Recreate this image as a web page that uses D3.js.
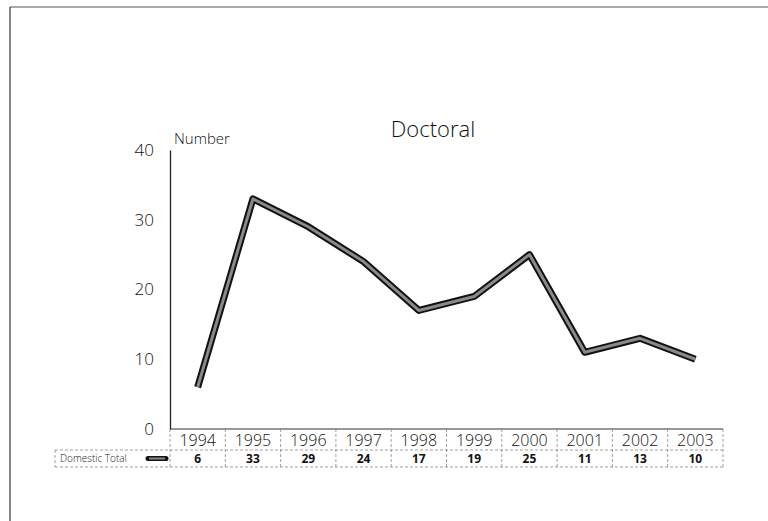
<!DOCTYPE html>
<html><head><meta charset="utf-8">
<script src="https://cdn.jsdelivr.net/npm/d3@7"></script>
<style>
html,body{margin:0;padding:0;background:#fff;}
svg{display:block;font-family:"Open Sans","DejaVu Sans",sans-serif;}
</style></head>
<body><svg id="chart" width="768" height="521"></svg>
<script>
const years = ["1994","1995","1996","1997","1998","1999","2000","2001","2002","2003"];
const domesticTotal = [6,33,29,24,17,19,25,11,13,10];
const yTicks = [0,10,20,30,40];
const seriesName = "Domestic Total";
const chartTitle = "Doctoral";
const yAxisLabel = "Number";

const svg = d3.select("#chart");
const pLeft = 170, pRight = 723, pTop = 150, pBottom = 429;
const x = d3.scaleBand().domain(years).range([pLeft, pRight]);
const y = d3.scaleLinear().domain([0,40]).range([pBottom, pTop]);

// page frame
svg.append("line").attr("x1",10).attr("x2",768).attr("y1",7).attr("y2",7).attr("stroke","#555").attr("stroke-width",1);
svg.append("line").attr("x1",10).attr("x2",10).attr("y1",7).attr("y2",521).attr("stroke","#333").attr("stroke-width",1.2);

// title
svg.append("text").attr("x",433).attr("y",137).attr("text-anchor","middle")
  .attr("font-size",22).attr("font-weight",300).attr("fill","#111").text(chartTitle);
svg.append("text").attr("x",174).attr("y",144).attr("font-size",15).attr("font-weight",300).attr("fill","#111").text(yAxisLabel);

// y axis
const yAxis = d3.axisLeft(y).tickValues(yTicks).tickSize(0).tickPadding(16);
const ga = svg.append("g").attr("transform",`translate(${pLeft},0)`).call(yAxis);
ga.select(".domain").attr("stroke","#222").attr("stroke-width",1.3);
ga.selectAll("text").attr("font-size",17).attr("font-weight",300).attr("fill","#111").attr("font-family","'Open Sans',sans-serif");

// x axis baseline
svg.append("line").attr("x1",pLeft).attr("x2",pRight).attr("y1",pBottom).attr("y2",pBottom).attr("stroke","#333").attr("stroke-width",1.2);

// data table
const tbl = svg.append("g").attr("stroke","#888").attr("stroke-width",0.8).attr("stroke-dasharray","3,2");
years.forEach((yr)=>{
  tbl.append("line").attr("x1",x(yr)).attr("x2",x(yr)).attr("y1",pBottom).attr("y2",467);
});
tbl.append("line").attr("x1",pRight).attr("x2",pRight).attr("y1",pBottom).attr("y2",467);
tbl.append("line").attr("x1",55).attr("x2",pRight).attr("y1",450).attr("y2",450);
tbl.append("line").attr("x1",55).attr("x2",pRight).attr("y1",467).attr("y2",467);
tbl.append("line").attr("x1",55).attr("x2",55).attr("y1",450).attr("y2",467);

svg.append("g").selectAll("text").data(years).join("text")
  .attr("x",d=>x(d)+x.bandwidth()/2).attr("y",446).attr("text-anchor","middle")
  .attr("font-size",16).attr("font-weight",300).attr("fill","#111").text(d=>d);
svg.append("g").selectAll("text").data(domesticTotal).join("text")
  .attr("x",(d,i)=>x(years[i])+x.bandwidth()/2).attr("y",463).attr("text-anchor","middle")
  .attr("font-size",12).attr("font-weight",700).attr("fill","#111").text(d=>d);

svg.append("text").attr("x",60).attr("y",462).attr("font-size",10).attr("font-weight",300).attr("fill","#222").text(seriesName);
svg.append("line").attr("x1",148).attr("x2",166).attr("y1",458.5).attr("y2",458.5).attr("stroke","#111").attr("stroke-width",5).attr("stroke-linecap","round");
svg.append("line").attr("x1",149).attr("x2",165).attr("y1",458.5).attr("y2",458.5).attr("stroke","#888").attr("stroke-width",2);

// line
const line = d3.line().x((d,i)=>x(years[i])+x.bandwidth()/2).y(d=>y(d));
svg.append("path").datum(domesticTotal).attr("d",line).attr("fill","none")
  .attr("stroke","#111").attr("stroke-width",7).attr("stroke-linejoin","round");
svg.append("path").datum(domesticTotal).attr("d",line).attr("fill","none")
  .attr("stroke","#8a8a8a").attr("stroke-width",3).attr("stroke-linejoin","round");
</script></body></html>
